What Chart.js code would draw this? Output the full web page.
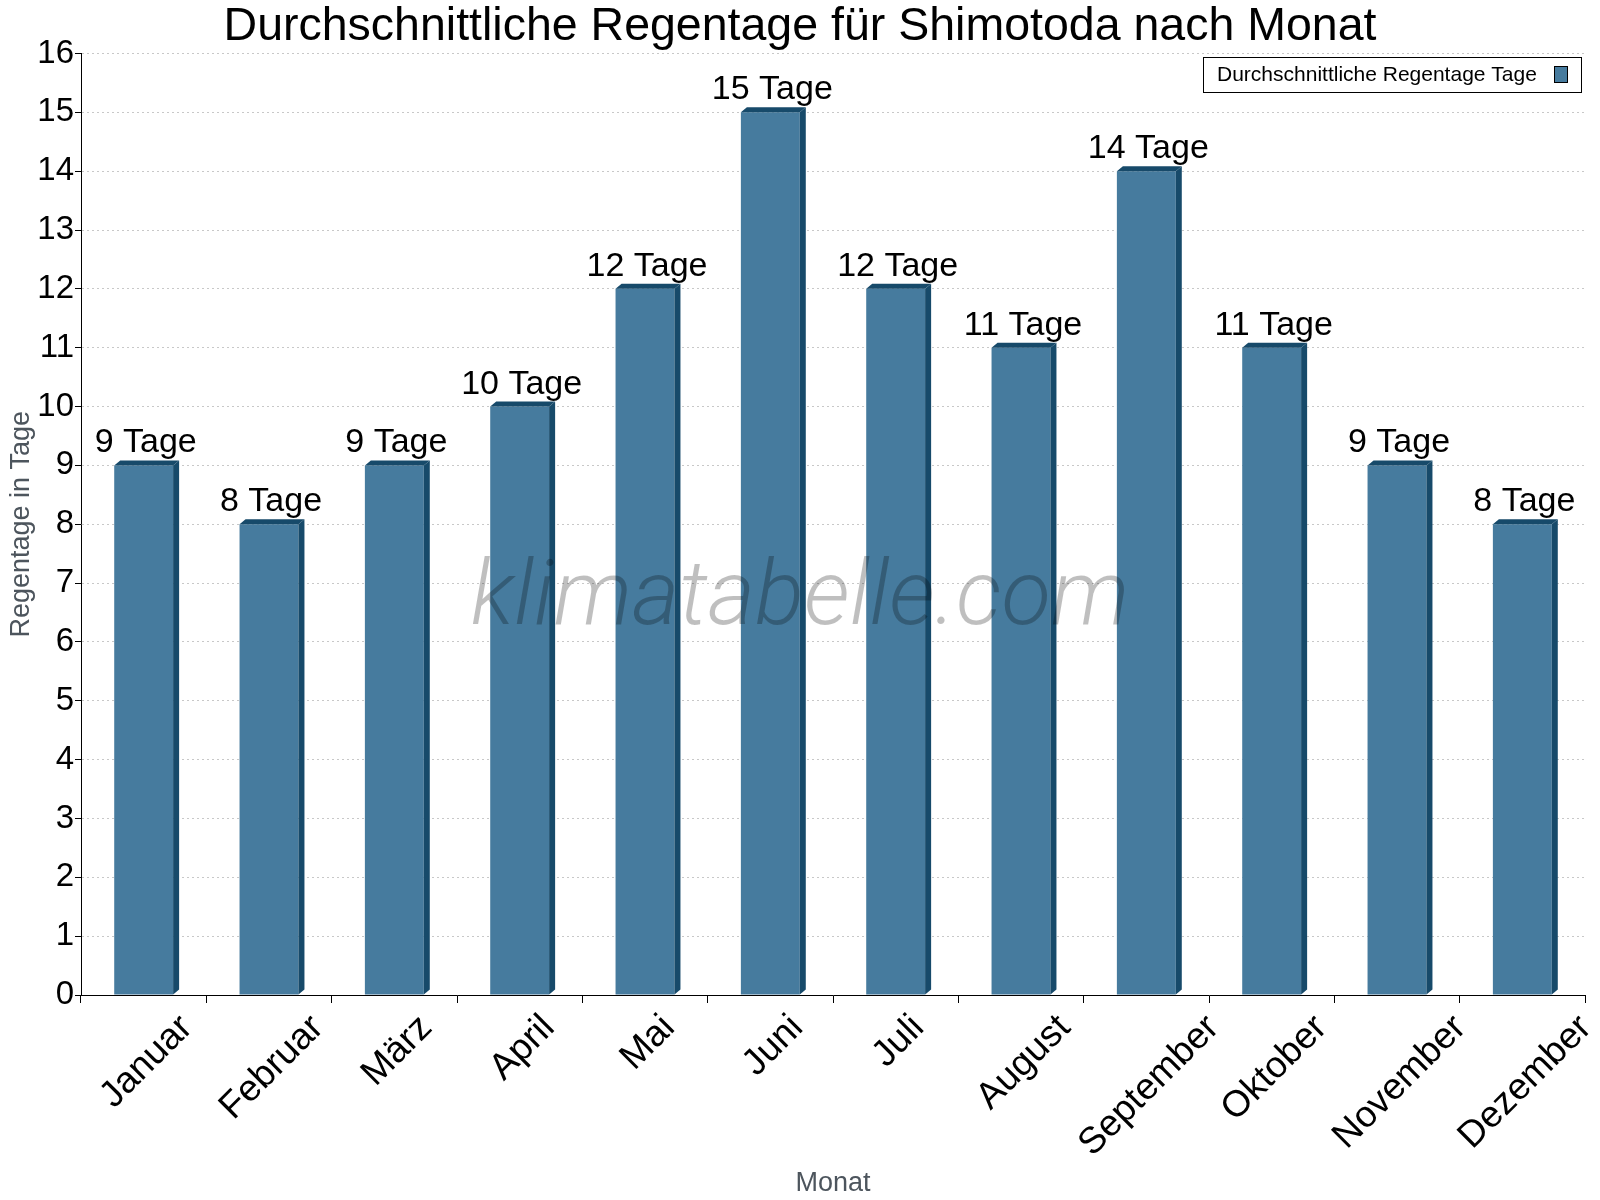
<!DOCTYPE html>
<html>
<head>
<meta charset="utf-8">
<script src="https://cdn.jsdelivr.net/npm/chart.js@4"></script>
<style>
  html, body { margin: 0; padding: 0; background: #fff; }
  #wrap { width: 1600px; height: 1200px; }
</style>
</head>
<body>
<div id="wrap"><canvas id="myChart" width="1600" height="1200"></canvas></div>
<script>
const months = ['Januar', 'Februar', 'März', 'April', 'Mai', 'Juni', 'Juli', 'August', 'September', 'Oktober', 'November', 'Dezember'];
const rainDays = [9, 8, 9, 10, 12, 15, 12, 11, 14, 11, 9, 8];
const yTicks = [0, 16];

const FONT = '"Liberation Sans", Arial, sans-serif';
const BAR_FRONT = 'rgb(70, 123, 158)';
const BAR_DARK = 'rgb(23, 74, 106)';

// 3D sides, value labels, month labels, watermark and legend box
const decorations = {
  id: 'decorations',
  afterDatasetsDraw(chart) {
    const ctx = chart.ctx;
    const meta = chart.getDatasetMeta(0);
    const xScale = chart.scales.x;
    const dx = 6, dy = 5;
    ctx.save();
    meta.data.forEach((bar, i) => {
      const left = bar.x - bar.width / 2;
      const right = bar.x + bar.width / 2;
      const top = bar.y;
      const base = bar.base;
      ctx.fillStyle = BAR_DARK;
      // right side
      ctx.beginPath();
      ctx.moveTo(right, top);
      ctx.lineTo(right + dx, top - dy);
      ctx.lineTo(right + dx, base - dy);
      ctx.lineTo(right, base);
      ctx.closePath();
      ctx.fill();
      // top face
      ctx.beginPath();
      ctx.moveTo(left, top);
      ctx.lineTo(left + dx, top - dy);
      ctx.lineTo(right + dx, top - dy);
      ctx.lineTo(right, top);
      ctx.closePath();
      ctx.fill();
      // value label
      ctx.fillStyle = '#000';
      ctx.font = '34px ' + FONT;
      ctx.textAlign = 'center';
      ctx.textBaseline = 'alphabetic';
      ctx.fillText(rainDays[i] + ' Tage', bar.x + 2, top - 13);
    });

    // month labels, rotated 45°, bounding box centred under each category
    ctx.font = '37px ' + FONT;
    ctx.fillStyle = '#000';
    ctx.textAlign = 'center';
    ctx.textBaseline = 'middle';
    months.forEach((m, i) => {
      const w = ctx.measureText(m).width;
      const cx = xScale.getPixelForValue(i) + 3;
      const cy = xScale.top + 27 + w * 0.3535;
      ctx.save();
      ctx.translate(cx, cy);
      ctx.rotate(-Math.PI / 4);
      ctx.fillText(m, 0, 0);
      ctx.restore();
    });

    // watermark
    ctx.font = 'italic 300 91px Roboto, ' + FONT;
    ctx.fillStyle = 'rgba(0, 0, 0, 0.25)';
    ctx.textAlign = 'center';
    ctx.textBaseline = 'alphabetic';
    ctx.fillText('klimatabelle.com', 800, 624);

    // legend
    const lx = 1203, ly = 57, lw = 378, lh = 35;
    ctx.fillStyle = '#fff';
    ctx.fillRect(lx, ly, lw, lh);
    ctx.strokeStyle = '#000';
    ctx.lineWidth = 1;
    ctx.strokeRect(lx + 0.5, ly + 0.5, lw, lh);
    ctx.fillStyle = '#000';
    ctx.font = '21px ' + FONT;
    ctx.textAlign = 'left';
    ctx.textBaseline = 'middle';
    ctx.fillText(chart.data.datasets[0].label, 1217, ly + lh / 2 + 1);
    ctx.fillStyle = BAR_FRONT;
    ctx.fillRect(1554, 66, 14, 17);
    ctx.strokeRect(1554.5, 66.5, 13, 16);
    ctx.restore();
  }
};

const data = {
  labels: months,
  datasets: [{
    label: 'Durchschnittliche Regentage Tage',
    data: rainDays,
    yAxisID: 'y',
    backgroundColor: BAR_FRONT,
    borderWidth: 0,
    barPercentage: 0.47,
    categoryPercentage: 1.0
  }]
};

const config = {
  type: 'bar',
  data: data,
  options: {
    responsive: false,
    animation: false,
    layout: { padding: 0 },
    plugins: {
      legend: { display: false },
      tooltip: { enabled: false },
      title: {
        display: true,
        text: 'Durchschnittliche Regentage für Shimotoda nach Monat',
        color: '#000',
        font: { family: FONT, size: 46.5, weight: 'normal', lineHeight: 1.15 },
        padding: { top: 0, bottom: 0 }
      }
    },
    scales: {
      x: {
        offset: true,
        grid: {
          display: true,
          drawOnChartArea: false,
          offset: true,
          tickLength: 8,
          tickColor: '#000'
        },
        border: { display: true, color: '#000', width: 1 },
        ticks: { display: false },
        title: {
          display: true,
          text: 'Monat',
          color: '#4d555d',
          font: { family: FONT, size: 27 },
          padding: { top: 0, bottom: 0 }
        },
        afterFit(scale) { scale.height = 205; }
      },
      y: {
        min: yTicks[0],
        max: yTicks[1],
        ticks: {
          stepSize: 1,
          color: '#000',
          font: { family: FONT, size: 33 },
          padding: 1
        },
        grid: {
          color: '#c8c8c8',
          tickColor: '#000',
          tickLength: 6
        },
        border: { display: true, color: '#000', width: 1, dash: [2, 3] },
        title: {
          display: true,
          text: 'Regentage in Tage',
          color: '#4d555d',
          font: { family: FONT, size: 27 },
          padding: { top: 5, bottom: 0 }
        },
        afterFit(scale) { scale.width = 81; }
      },
      // empty spacer on the right, keeps the title centred on the page
      y2: {
        position: 'right',
        display: true,
        min: yTicks[0],
        max: yTicks[1],
        grid: { display: false, drawTicks: false },
        border: { display: false },
        ticks: { display: false },
        afterFit(scale) { scale.width = 15; }
      }
    }
  },
  plugins: [decorations]
};

const myChart = new Chart(document.getElementById('myChart'), config);
</script>
</body>
</html>
